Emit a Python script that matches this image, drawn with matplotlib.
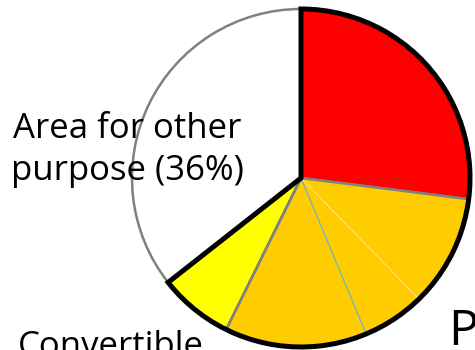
import matplotlib.pyplot as plt
import numpy as np
from matplotlib.patches import Wedge

# slices, clockwise from 12 o'clock
shares = [27.0, 10.7, 6.0, 13.6, 7.1, 35.6]
colors = ['#FF0000', '#FFCC00', '#FFCC00', '#FFCC00', '#FFFF00', '#FFFFFF']
label_other = 'Area for other\npurpose (36%)'
label_conv = 'Convertible'
label_p = 'P'

plt.rcParams['font.family'] = ['Open Sans', 'DejaVu Sans']

fig = plt.figure(figsize=(4.75, 3.5), dpi=100)
ax = fig.add_axes([0, 0, 1, 1])

cx, cy, r = 301, 172, 169

wedges, _ = ax.pie(shares, colors=colors, startangle=90, counterclock=False,
                   center=(cx, cy), radius=r, frame=True,
                   wedgeprops=dict(edgecolor='#808080', linewidth=1.8))
ax.set_xlim(0, 475)
ax.set_ylim(0, 350)
ax.set_aspect('equal')
ax.axis('off')

# the orange slices share a colour, so their borders are faint
for w in wedges[1:4]:
    w.set_edgecolor('#FFCC00')
    w.set_linewidth(0.8)

# boundary angles from the data
cum = np.cumsum(shares) / sum(shares)
theta = 90 - 360 * cum
line_cols = ['#808080', '#FFE680', '#5BB0D8', '#808080']
for t, c in zip(theta[:4], line_cols):
    a = np.radians(t)
    ax.plot([cx, cx + r * np.cos(a)], [cy, cy + r * np.sin(a)],
            color=c, lw=1.8 if c == '#808080' else 0.8, zorder=3)

# black frame around the non-white part
outline = Wedge((cx, cy), r, theta[4], 90, fill=False, edgecolor='black',
                linewidth=3.6, joinstyle='miter', zorder=4)
ax.add_patch(outline)

ax.text(127, 200, label_other, ha='center', va='center', fontsize=25,
        linespacing=1.3, zorder=5)
ax.text(18, -6, label_conv, ha='left', va='baseline', fontsize=25, zorder=5)
ax.text(448, 5, label_p, ha='left', va='baseline', fontsize=36, zorder=5)

fig.savefig('out.png', dpi=100)
